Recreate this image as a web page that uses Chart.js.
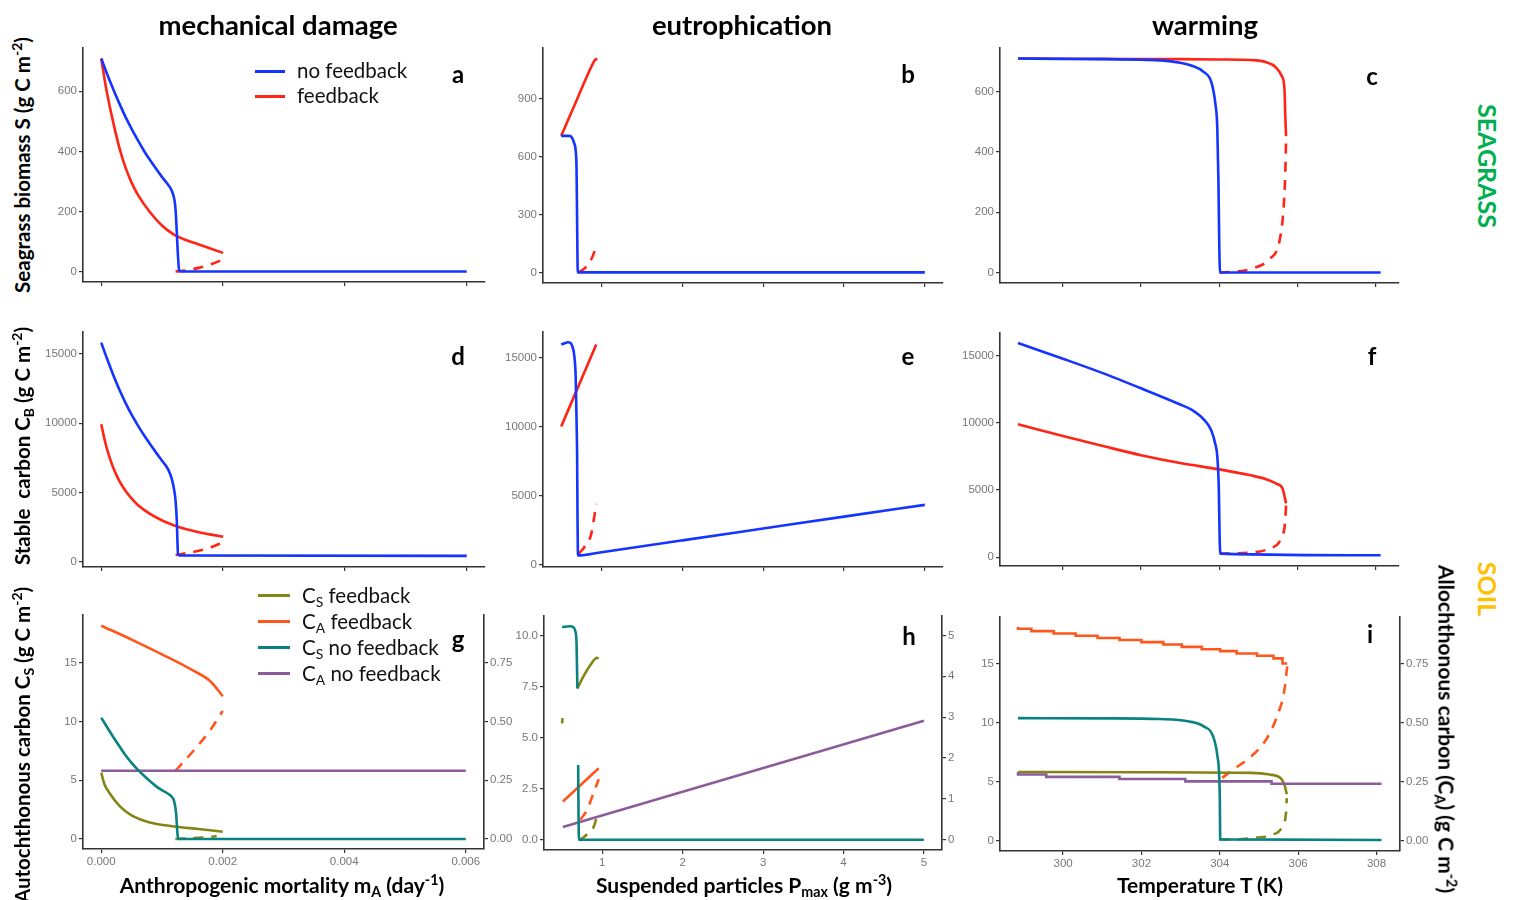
<!DOCTYPE html>
<html>
<head>
<meta charset="utf-8">
<script src="https://cdn.jsdelivr.net/npm/chart.js@4.4.0/dist/chart.umd.min.js"></script>
<style>
  body { margin: 0; background: #fff; width: 1514px; height: 900px; overflow: hidden; position: relative; font-family: Lato, "Open Sans", sans-serif; }
  canvas { position: absolute; }
  .t { position: absolute; white-space: nowrap; transform: translate(-50%, -50%); color: #000; }
  .col { font-weight: bold; font-size: 27.5px; }
  .lab { font-weight: bold; font-size: 24px; }
  .ax { font-weight: bold; font-size: 21px; }
  .ay { font-weight: bold; font-size: 20.5px; }
  .yl { transform: translate(-50%, -50%) rotate(-90deg); }
  .yr { transform: translate(-50%, -50%) rotate(90deg); }
  .grp { font-weight: bold; font-size: 25px; }
  .leg { position: absolute; white-space: nowrap; transform: translateY(-50%); font-size: 20.5px; color: #111; }
  .sw { position: absolute; height: 3px; margin-top: -1.5px; }
  sub { font-size: 0.68em; vertical-align: -0.3em; line-height: 0; }
  sup { font-size: 0.68em; vertical-align: 0.55em; line-height: 0; }
</style>
</head>
<body>
<script>
// ---- tick values ----
const mortTicks = [0, 0.002, 0.004, 0.006];
const partTicks = [1, 2, 3, 4, 5];
const tempTicks = [300, 302, 304, 306, 308];
const biomassTicks = [0, 200, 400, 600];
const biomassTicksB = [0, 300, 600, 900];
const stableTicks = [0, 5000, 10000, 15000];
const soilTicks = [0, 5, 10, 15];
const soilTicksH = [0, 2.5, 5, 7.5, 10];
const alloTicks = [0, 0.25, 0.5, 0.75];
const alloTicksH = [0, 1, 2, 3, 4, 5];

// ---- a: seagrass biomass vs mortality ----
const aNoFeedback = [[0,709],[0.0001,655],[0.0002,605],[0.0003,558],[0.0004,514],[0.0005,474],[0.0006,437],[0.0007,402],[0.0008,371],[0.0009,342],[0.001,314],[0.0011,288],[0.00115,272],[0.0012,240],[0.00122,205],[0.00124,130],[0.00126,50],[0.00128,2],[0.0013,0],[0.006,0]];
const aFeedback = [[0,709],[0.00005,645],[0.0001,588],[0.0002,493],[0.0003,410],[0.0004,345],[0.0005,295],[0.0006,256],[0.0008,197],[0.001,152],[0.0012,122],[0.0014,104],[0.0016,90],[0.0018,76],[0.002,62]];
const aFeedbackUnstable = [[0.00122,0],[0.0014,4],[0.0016,12],[0.0018,24],[0.002,40]];

// ---- b: seagrass biomass vs particles ----
const bNoFeedback = [[0.5,709],[0.6,709],[0.63,702],[0.66,672],[0.68,630],[0.69,540],[0.695,350],[0.7,150],[0.705,0],[5,0]];
const bFeedback = [[0.5,709],[0.6,805],[0.7,902],[0.8,1000],[0.9,1090],[0.93,1108],[0.945,1103]];
const bFeedbackUnstable = [[0.71,0],[0.78,18],[0.85,50],[0.9,95],[0.935,140]];

// ---- c: seagrass biomass vs temperature ----
const cNoFeedback = [[298.85,709],[300,708],[301,707],[302,705],[302.5,703],[303,695],[303.3,685],[303.6,665],[303.8,630],[303.9,560],[303.95,480],[303.98,300],[304,100],[304.02,0],[308.13,0]];
const cFeedback = [[298.85,709],[301,708],[303,707],[304,706],[304.8,704],[305.2,697],[305.45,680],[305.6,651],[305.67,607],[305.69,520],[305.71,452]];
const cFeedbackUnstable = [[304.01,0],[304.35,2],[304.9,15],[305.27,43],[305.55,109],[305.65,220],[305.69,330],[305.71,440]];

// ---- d: stable carbon vs mortality ----
const dNoFeedback = [[0,15820],[0.0001,14600],[0.0002,13450],[0.0003,12400],[0.0004,11450],[0.0005,10600],[0.0006,9850],[0.0007,9150],[0.0008,8500],[0.0009,7880],[0.001,7280],[0.0011,6650],[0.00116,5950],[0.0012,5100],[0.00122,4400],[0.00124,2970],[0.00126,560],[0.00128,450],[0.006,420]];
const dFeedback = [[0,9928],[0.00005,8900],[0.0001,8050],[0.00015,7350],[0.0002,6750],[0.0003,5800],[0.0004,5100],[0.0005,4550],[0.0006,4100],[0.0008,3450],[0.001,2980],[0.0012,2620],[0.0014,2340],[0.0016,2130],[0.0018,1960],[0.002,1812]];
const dFeedbackUnstable = [[0.00122,483],[0.0014,620],[0.0016,790],[0.0018,1050],[0.002,1400]];

// ---- e: stable carbon vs particles ----
const eNoFeedback = [[0.5,15942],[0.55,16050],[0.58,16111],[0.61,16080],[0.635,15870],[0.664,15024],[0.68,13500],[0.69,10500],[0.697,8019],[0.702,3500],[0.706,1200],[0.71,650],[1,895],[2,1750],[3,2610],[4,3470],[5,4324]];
const eFeedback = [[0.5,10000],[0.934,15942]];
const eFeedbackUnstable = [[0.715,773],[0.786,1256],[0.872,2222],[0.934,4396]];

// ---- f: stable carbon vs temperature ----
const fNoFeedback = [[298.85,15915],[300,14750],[301,13700],[302,12550],[303,11350],[303.3,10950],[303.6,10250],[303.8,9400],[303.9,8400],[303.95,7500],[303.99,5000],[304.01,1500],[304.03,272],[308.13,149]];
const fFeedback = [[298.85,9876],[300,9000],[301,8280],[302,7580],[303,7000],[304,6530],[304.8,6090],[305.2,5800],[305.46,5470],[305.62,5100],[305.71,4000]];
const fFeedbackUnstable = [[304.01,272],[304.8,347],[305.27,644],[305.6,1510],[305.69,2747],[305.71,3900]];

// ---- g: soil carbon vs mortality (CA on right axis) ----
const gCsFeedback = [[0,5.65],[0.00005,4.7],[0.00013,3.95],[0.0003,2.82],[0.0005,2.0],[0.0008,1.41],[0.0012,1.07],[0.0016,0.85],[0.002,0.62]];
const gCsFeedbackUnstable = [[0.00122,0],[0.0016,0.1],[0.0019,0.23]];
const gCaFeedback = [[0,0.907],[0.0005,0.848],[0.001,0.785],[0.0015,0.718],[0.0018,0.67],[0.002,0.607]];
const gCaFeedbackUnstable = [[0.00122,0.29],[0.0015,0.37],[0.0018,0.465],[0.002,0.545]];
const gCsNoFeedback = [[0,10.31],[0.0001,9.48],[0.0002,8.66],[0.0003,7.88],[0.0004,7.12],[0.0005,6.47],[0.0006,5.9],[0.0007,5.4],[0.0008,4.93],[0.0009,4.5],[0.001,4.15],[0.0011,3.85],[0.00116,3.6],[0.0012,3.2],[0.00123,2.3],[0.00126,0.2],[0.00128,0],[0.006,0]];
const gCaNoFeedback = [[0,0.29],[0.006,0.29]];

// ---- h: soil carbon vs particles ----
const hCsFeedback = [[0.69,7.4],[0.76,7.96],[0.85,8.54],[0.934,8.91],[0.95,8.85]];
const hCsFeedbackStart = [[0.5,5.7],[0.505,5.95]];
const hCsFeedbackUnstable = [[0.71,0],[0.76,0.1],[0.83,0.35],[0.9,0.7],[0.94,1.3]];
const hCaFeedback = [[0.51,0.935],[0.955,1.75]];
const hCaFeedbackUnstable = [[0.726,0.49],[0.81,0.73],[0.89,1.14],[0.955,1.48]];
const hCsNoFeedbackHigh = [[0.5,10.41],[0.6,10.45],[0.64,10.4],[0.665,10.2],[0.68,9.6],[0.69,7.4]];
const hCsNoFeedbackLow = [[0.7,3.66],[0.705,1.0],[0.71,0],[5,0]];
const hCaNoFeedback = [[0.51,0.31],[5,2.91]];

// ---- i: soil carbon vs temperature ----
const iCsFeedback = [[298.85,5.82],[302,5.8],[304.8,5.74],[305.27,5.6],[305.55,5.31],[305.65,4.75],[305.71,3.93]];
const iCsFeedbackUnstable = [[304.01,0.08],[304.34,0.08],[304.9,0.23],[305.37,0.51],[305.6,1.21],[305.69,2.34],[305.71,3.6]];
const iCaFeedback = [[298.85,0.908],[299.19,0.9],[299.76,0.89],[300.32,0.88],[300.88,0.87],[301.44,0.861],[302.0,0.852],[302.56,0.843],[303.03,0.833],[303.54,0.823],[304.01,0.813],[304.43,0.805],[304.95,0.795],[305.37,0.785],[305.6,0.774],[305.72,0.752]];
const iCaFeedbackUnstable = [[304.06,0.266],[304.34,0.301],[304.8,0.357],[305.18,0.428],[305.46,0.527],[305.65,0.64],[305.72,0.74]];
const iCsNoFeedback = [[298.85,10.4],[301,10.38],[302.47,10.32],[303.22,10.12],[303.59,9.7],[303.83,8.84],[303.94,7.15],[304.0,3.76],[304.01,0.09],[308.13,0.03]];
const iCaNoFeedback = [[298.85,0.291],[299.57,0.28],[301.44,0.27],[303.12,0.261],[305.32,0.251],[306.82,0.241],[308.13,0.241]];

// ---- styling ----
const BLUE = '#1434ff', RED = '#ff2414', OLIVE = '#858515', ORANGE = '#ff561c', TEAL = '#0b8282', PURPLE = '#8c5c9a';
const DASH = [10, 8];
const YW = 48, Y2W = 48, PT = 14, PR = 14, XH = 36;

Chart.defaults.font.family = '"Liberation Sans", Arial, sans-serif';

function line(data, color, extra) {
  return Object.assign({
    data: data.map(p => ({ x: p[0], y: p[1] })),
    borderColor: color, borderWidth: 2.6, pointRadius: 0, fill: false,
    cubicInterpolationMode: 'monotone', yAxisID: 'y'
  }, extra || {});
}

function axis(pos, range, ticks, fmt, show) {
  const horiz = pos === 'bottom';
  return {
    type: 'linear', position: pos, min: range[0], max: range[1],
    afterBuildTicks: s => { s.ticks = ticks.map(v => ({ value: v })); },
    afterFit: s => { if (horiz) s.height = XH; else s.width = pos === 'left' ? YW : Y2W; },
    grid: { display: true, drawOnChartArea: false, drawTicks: true, tickLength: 4, color: '#333', lineWidth: 1.2 },
    border: { display: true, color: '#333', width: 1.6 },
    ticks: { display: show, color: '#777', font: { size: 11.5 }, padding: 2, autoSkip: false, maxRotation: 0, callback: v => fmt(v) }
  };
}

const f0 = v => String(v), f1 = v => v.toFixed(1), f2 = v => v.toFixed(2), f3 = v => v.toFixed(3);

function panel(box, xAx, yAx, y2Ax, sets) {
  const cv = document.createElement('canvas');
  cv.width = box.r - box.l + YW + (y2Ax ? Y2W : PR);
  cv.height = box.b - box.t + PT + XH;
  cv.style.left = (box.l - YW) + 'px';
  cv.style.top = (box.t - PT) + 'px';
  document.body.appendChild(cv);
  const scales = { x: xAx, y: yAx };
  if (y2Ax) scales.y2 = y2Ax;
  new Chart(cv, {
    type: 'line',
    data: { datasets: sets },
    options: {
      responsive: false, animation: false, events: [],
      layout: { padding: { top: PT, right: y2Ax ? 0 : PR, left: 0, bottom: 0 } },
      plugins: { legend: { display: false }, tooltip: { enabled: false } },
      scales
    }
  });
}

const mortRange = [-0.0003, 0.0063], partRange = [0.275, 5.225], tempRange = [298.39, 308.6];

// row 1: seagrass biomass
panel({ l: 83, r: 485, t: 48, b: 282 },
  axis('bottom', mortRange, mortTicks, f3, false),
  axis('left', [-35, 744], biomassTicks, f0, true), null,
  [line(aNoFeedback, BLUE), line(aFeedback, RED), line(aFeedbackUnstable, RED, { borderDash: DASH })]);
panel({ l: 543, r: 943, t: 48, b: 283 },
  axis('bottom', partRange, partTicks, f0, false),
  axis('left', [-55, 1165], biomassTicksB, f0, true), null,
  [line(bNoFeedback, BLUE), line(bFeedback, RED), line(bFeedbackUnstable, RED, { borderDash: DASH })]);
panel({ l: 1000, r: 1399, t: 48, b: 283 },
  axis('bottom', tempRange, tempTicks, f0, false),
  axis('left', [-35, 744], biomassTicks, f0, true), null,
  [line(cNoFeedback, BLUE), line(cFeedback, RED), line(cFeedbackUnstable, RED, { borderDash: DASH })]);

// row 2: stable carbon
panel({ l: 83, r: 485, t: 332, b: 567 },
  axis('bottom', mortRange, mortTicks, f3, false),
  axis('left', [-380, 16590], stableTicks, f0, true), null,
  [line(dNoFeedback, BLUE), line(dFeedback, RED), line(dFeedbackUnstable, RED, { borderDash: DASH })]);
panel({ l: 543, r: 943, t: 332, b: 567 },
  axis('bottom', partRange, partTicks, f0, false),
  axis('left', [-180, 16850], stableTicks, f0, true), null,
  [line(eNoFeedback, BLUE), line(eFeedback, RED), line(eFeedbackUnstable, RED, { borderDash: DASH })]);
panel({ l: 1000, r: 1399, t: 333, b: 566 },
  axis('bottom', tempRange, tempTicks, f0, false),
  axis('left', [-650, 16660], stableTicks, f0, true), null,
  [line(fNoFeedback, BLUE), line(fFeedback, RED), line(fFeedbackUnstable, RED, { borderDash: DASH })]);

// row 3: soil carbon (CS left, CA right)
panel({ l: 83, r: 484, t: 615, b: 849 },
  axis('bottom', mortRange, mortTicks, f3, true),
  axis('left', [-0.85, 19.05], soilTicks, f0, true),
  axis('right', [-0.0425, 0.9525], alloTicks, f2, true),
  [line(gCsNoFeedback, TEAL), line(gCaNoFeedback, PURPLE, { yAxisID: 'y2' }),
   line(gCsFeedback, OLIVE), line(gCsFeedbackUnstable, OLIVE, { borderDash: DASH }),
   line(gCaFeedback, ORANGE, { yAxisID: 'y2' }), line(gCaFeedbackUnstable, ORANGE, { yAxisID: 'y2', borderDash: DASH })]);
panel({ l: 544, r: 942, t: 616, b: 850 },
  axis('bottom', partRange, partTicks, f0, true),
  axis('left', [-0.5, 10.95], soilTicksH, f1, true),
  axis('right', [-0.25, 5.475], alloTicksH, f0, true),
  [line(hCsNoFeedbackHigh, TEAL), line(hCsNoFeedbackLow, TEAL), line(hCaNoFeedback, PURPLE, { yAxisID: 'y2' }),
   line(hCsFeedback, OLIVE), line(hCsFeedbackStart, OLIVE), line(hCsFeedbackUnstable, OLIVE, { borderDash: DASH }),
   line(hCaFeedback, ORANGE, { yAxisID: 'y2' }), line(hCaFeedbackUnstable, ORANGE, { yAxisID: 'y2', borderDash: DASH })]);
panel({ l: 1000, r: 1400, t: 617, b: 851 },
  axis('bottom', tempRange, tempTicks, f0, true),
  axis('left', [-0.9, 19.0], soilTicks, f0, true),
  axis('right', [-0.045, 0.95], alloTicks, f2, true),
  [line(iCsNoFeedback, TEAL), line(iCaNoFeedback, PURPLE, { yAxisID: 'y2', stepped: 'after' }),
   line(iCsFeedback, OLIVE), line(iCsFeedbackUnstable, OLIVE, { borderDash: DASH }),
   line(iCaFeedback, ORANGE, { yAxisID: 'y2', stepped: 'after' }), line(iCaFeedbackUnstable, ORANGE, { yAxisID: 'y2', borderDash: DASH })]);
</script>

<!-- column titles -->
<div class="t col" style="left:278px;top:24px">mechanical damage</div>
<div class="t col" style="left:742px;top:24px">eutrophication</div>
<div class="t col" style="left:1205px;top:24px">warming</div>

<!-- panel letters -->
<div class="t lab" style="left:458px;top:73px">a</div>
<div class="t lab" style="left:908px;top:73px">b</div>
<div class="t lab" style="left:1372px;top:75px">c</div>
<div class="t lab" style="left:458px;top:355px">d</div>
<div class="t lab" style="left:908px;top:355px">e</div>
<div class="t lab" style="left:1372px;top:355px">f</div>
<div class="t lab" style="left:458px;top:638px">g</div>
<div class="t lab" style="left:909px;top:635px">h</div>
<div class="t lab" style="left:1370px;top:633px">i</div>

<!-- y titles -->
<div class="t ay yl" style="left:22px;top:165px">Seagrass biomass S (g C m<sup>-2</sup>)</div>
<div class="t ay yl" style="left:22px;top:446px">Stable&nbsp; carbon C<sub>B</sub> (g C m<sup>-2</sup>)</div>
<div class="t ay yl" style="left:22px;top:745px">Autochthonous carbon C<sub>S</sub> (g C m<sup>-2</sup>)</div>
<div class="t ax yr" style="left:1447px;top:729px">Allochthonous carbon (C<sub>A</sub>) (g C m<sup>-2</sup>)</div>

<!-- x titles -->
<div class="t ax" style="left:282px;top:884px">Anthropogenic mortality m<sub>A</sub> (day<sup>-1</sup>)</div>
<div class="t ax" style="left:744px;top:884px">Suspended particles P<sub>max</sub> (g m<sup>-3</sup>)</div>
<div class="t ax" style="left:1200px;top:884px">Temperature T (K)</div>

<!-- group labels -->
<div class="t grp yr" style="left:1488px;top:166px;color:#00b050">SEAGRASS</div>
<div class="t grp yr" style="left:1488px;top:589px;color:#ffc000">SOIL</div>

<!-- legend a -->
<div class="sw" style="left:255px;top:71px;width:30px;background:#1434ff"></div>
<div class="leg" style="left:297px;top:70px">no feedback</div>
<div class="sw" style="left:255px;top:96px;width:30px;background:#ff2414"></div>
<div class="leg" style="left:297px;top:95px">feedback</div>

<!-- legend g -->
<div class="sw" style="left:258px;top:595px;width:32px;background:#858515"></div>
<div class="leg" style="left:302px;top:595px">C<sub>S</sub> feedback</div>
<div class="sw" style="left:258px;top:621px;width:32px;background:#ff561c"></div>
<div class="leg" style="left:302px;top:621px">C<sub>A</sub> feedback</div>
<div class="sw" style="left:258px;top:647px;width:32px;background:#0b8282"></div>
<div class="leg" style="left:302px;top:647px">C<sub>S</sub> no feedback</div>
<div class="sw" style="left:258px;top:673px;width:32px;background:#8c5c9a"></div>
<div class="leg" style="left:302px;top:673px">C<sub>A</sub> no feedback</div>
</body>
</html>
